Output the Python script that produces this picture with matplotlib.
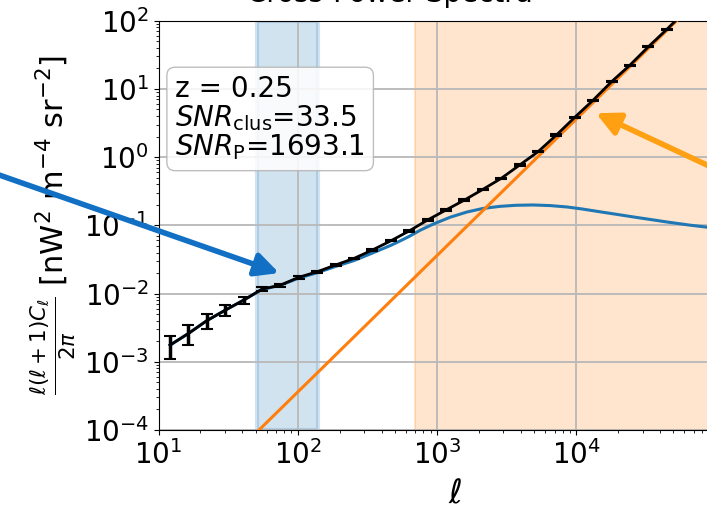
from matplotlib import pyplot as plt
import numpy as np

# binned power spectrum (total signal) with errors
ell_bins = [12.1, 16.4, 22.2, 30.1, 40.8, 55.4, 75.1, 101.8, 138, 187,
            254, 344, 467, 633, 858, 1162, 1577, 2138, 2898, 3928,
            5325, 7218, 9785, 13270, 17990, 24390, 33070, 44840, 60780, 82400]
cl_total = [1.76e-3, 2.6e-3, 4.0e-3, 5.7e-3, 8.0e-3, 1.16e-2, 1.33e-2, 1.73e-2, 2.09e-2, 2.62e-2,
            3.28e-2, 4.35e-2, 5.94e-2, 8.3e-2, 0.120, 0.168, 0.235, 0.337, 0.489, 0.766,
            1.20, 2.11, 3.84, 6.87, 12.8, 22.4, 41.6, 74.8, 138, 257]
cl_err = [6.5e-4, 8.5e-4, 1.0e-3, 1.0e-3, 9e-4, 8e-4, 7e-4, 7e-4, 7e-4, 8e-4,
          9e-4, 1.1e-3, 1.4e-3, 1.9e-3, 2.6e-3, 3.5e-3, 5e-3, 7e-3, 1e-2, 1.6e-2,
          2.5e-2, 4.2e-2, 7e-2, 0.12, 0.22, 0.4, 0.7, 1.2, 2.2, 4.0]

# clustering term
ell_clus = [12.1, 16.4, 22.2, 30.1, 40.8, 55.4, 75.1, 101.8, 138, 187,
            254, 344, 467, 543, 633, 760, 937, 1250, 1644, 2142,
            2839, 3700, 4900, 6500, 8600, 11000, 14860, 20000, 25660, 35000,
            44980, 65000, 87100, 100000]
cl_clus = [1.75e-3, 2.6e-3, 4.0e-3, 5.7e-3, 8.0e-3, 1.15e-2, 1.32e-2, 1.69e-2, 2.02e-2, 2.5e-2,
           3.05e-2, 3.93e-2, 5.1e-2, 5.9e-2, 6.9e-2, 8.5e-2, 0.104, 0.132, 0.157, 0.177,
           0.19, 0.197, 0.199, 0.195, 0.186, 0.174, 0.158, 0.144, 0.133, 0.121,
           0.112, 0.101, 0.094, 0.091]

# shot noise term
ell_shot = [10, 100000]
cl_shot = [3.6e-6, 3.6e2]

clus_range = (50.8, 140)
shot_range = (697, 1e6)

z_str = 'z = 0.25'
snr_clus = 33.5
snr_p = 1693.1

fig = plt.figure(figsize=(7.07, 5.09), dpi=100)
ax = fig.add_axes([0.2242, 0.1552, 0.7876, 0.8041])

ax.axvspan(*clus_range, facecolor='C0', edgecolor='C0', alpha=0.2, lw=3)
ax.axvspan(*shot_range, facecolor='C1', edgecolor='C1', alpha=0.2, lw=1.5)

ax.plot(ell_clus, cl_clus, color='C0', lw=2.2, zorder=3)
ax.plot(ell_shot, cl_shot, color='C1', lw=2.2, zorder=3)
ax.errorbar(ell_bins, cl_total, yerr=cl_err, fmt='k-', lw=2, elinewidth=2.5,
            capsize=4, capthick=1.5, zorder=4)

ax.set_xscale('log')
ax.set_yscale('log')
ax.set_xlim(10, 1e5)
ax.set_ylim(1e-4, 1e2)
ax.set_xticks([1e1, 1e2, 1e3, 1e4])
ax.grid(True, which='major', color='0.72', lw=1.3)
ax.tick_params(which='major', labelsize=20)

ax.set_xlabel(r'$\ell$', fontsize=24)
ax.xaxis.set_label_coords(0.532, -0.115)
ax.set_ylabel(r'$\frac{\ell(\ell+1)C_\ell}{2\pi}$ [nW$^2$ m$^{-4}$ sr$^{-2}$]', fontsize=22)

txt = z_str + '\n' + r'$SNR_{\rm clus}$=%.1f' % snr_clus + '\n' + r'$SNR_{\rm P}$=%.1f' % snr_p
ax.text(0.03, 0.868, txt, transform=ax.transAxes, fontsize=20, va='top', ha='left',
        linespacing=1.0,
        bbox=dict(boxstyle='round', facecolor='white', edgecolor='0.7', alpha=0.85), zorder=5)

# panel title sits right at the top edge
fig.text(390 / 707, 1 - 2 / 509, 'Cross-Power Spectra', ha='center', va='baseline', fontsize=20)

# pointers coming in from the neighbouring panels
ax.annotate('', xy=(73.5, 0.02), xycoords='data', xytext=(-0.085, 0.697),
            textcoords='figure fraction', annotation_clip=False,
            arrowprops=dict(arrowstyle='-|>,head_length=0.7,head_width=0.35', color='#1170c4',
                            lw=4, mutation_scale=20, shrinkA=0, shrinkB=0))
ax.annotate('', xy=(13900, 4.4), xycoords='data', xytext=(1.103, 0.609),
            textcoords='figure fraction', annotation_clip=False,
            arrowprops=dict(arrowstyle='-|>,head_length=0.7,head_width=0.35', color='#ffa012',
                            lw=4, mutation_scale=20, shrinkA=0, shrinkB=0))

plt.savefig('out.png', dpi=100)
